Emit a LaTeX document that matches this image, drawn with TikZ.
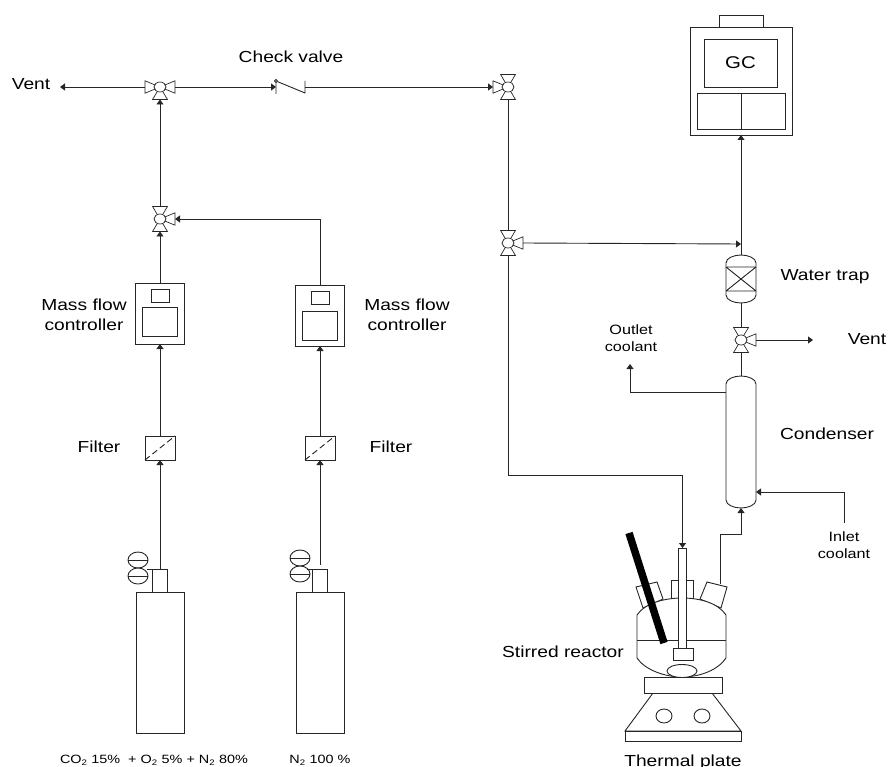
\documentclass[tikz,border=0pt]{standalone}
\usepackage{fontspec}
\setmainfont[FakeStretch=1.2]{Liberation Sans}
\usetikzlibrary{arrows.meta,positioning,calc,shapes.geometric}
\definecolor{PipeInk}{HTML}{262626}
\tikzset{pipe/.style={draw=PipeInk,line width=.9pt},
arr/.style={pipe,-{Triangle[length=5pt,width=7pt]}},
unit/.style={draw=PipeInk,line width=.9pt,fill=white,inner sep=0pt,outer sep=0pt},
valvearm/.style={draw=PipeInk,line width=.7pt,fill=white},
valvebody/.style={ellipse,draw=PipeInk,line width=.7pt,fill=white,inner sep=0pt,outer sep=0pt,minimum width=12pt,minimum height=10pt},
lab/.style={align=center,inner sep=0pt,font=\fontsize{16}{20}\selectfont},
smalllab/.style={align=center,inner sep=0pt,font=\fontsize{13.5}{16.5}\selectfont},
gaslab/.style={inner sep=0pt,font=\fontsize{12}{14}\selectfont}}
\newcommand{\valve}[4]{%
\foreach \a in {#4}{
\draw[valvearm,shift={(#2,#3)},xscale=1.2,rotate=\a] (0,0)--(12.5,-6.2)--(12.5,6.2)--cycle;
\path[shift={(#2,#3)},xscale=1.2,rotate=\a] (12.5,0) coordinate (#1-\a);}
\node[valvebody] (#1) at (#2,#3) {};}
\newcommand{\capsule}[4]{%
\node[inner sep=0pt,outer sep=0pt,minimum width=30pt,minimum height={#4-#3}] (#1) at (#2,{(#3+#4)/2}) {};
\draw[pipe,fill=white] (#2-15,#3+8) .. controls (#2-15,#3+3) and (#2-7,#3) .. (#2,#3) .. controls (#2+7,#3) and (#2+15,#3+3) .. (#2+15,#3+8) -- (#2+15,#4-8) .. controls (#2+15,#4-3) and (#2+7,#4) .. (#2,#4) .. controls (#2-7,#4) and (#2-15,#4-3) .. (#2-15,#4-8) -- cycle;}
\begin{document}
\begin{tikzpicture}[x=1pt,y=-1pt]
\useasboundingbox (0,0) rectangle (888,767);
\foreach \n/\x/\y/\b in {A/160/283/24,B/320/285/26}{
\node[unit,minimum width=48.5pt,minimum height=61pt] (mfc\n) at (\x,\y+30.5) {};
\node[unit,minimum width=18pt,minimum height=13pt] (mfcTop\n) at (\x,\y+12.5) {};
\node[unit,minimum width=35pt,minimum height=29pt] (mfcBig\n) at (\x-.5,\y+\b+14.5) {};
\node[unit,minimum width=30pt,minimum height=24pt] (filter\n) at (\x,448) {};
\draw[pipe,dashed,dash pattern=on 6pt off 3.5pt] (filter\n.south west)--(filter\n.north east);
\node[unit,minimum width=48pt,minimum height=141pt] (cyl\n) at (\x,662.5) {};
\node[unit,minimum width=14.5pt,minimum height=23pt] (neck\n) at (\x,580.5) {};}
\foreach \n/\x/\y in {A/138/560,B/300/558}{
\node[unit,ellipse,minimum width=20pt,minimum height=16pt] (regTop\n) at (\x,\y) {};
\node[unit,ellipse,minimum width=20pt,minimum height=16pt] (regLow\n) at (\x,\y+16) {};
\draw[pipe] (regTop\n.west)--(regTop\n.east);
\draw[pipe] (regLow\n.west)--(regLow\n.east);
\draw[pipe] (neck\n.north west)--++(-6,0);}
\valve{valveVent}{160}{87}{0,180,270}
\valve{valveMix}{160}{219}{0,90,270}
\valve{valveOut}{508}{87}{90,180,270}
\valve{valveFeed}{508}{243}{0,90,270}
\valve{valveTrap}{741}{340}{0,90,270}
\node[unit,minimum width=102pt,minimum height=108pt] (gc) at (741,81) {};
\node[unit,minimum width=44pt,minimum height=12pt] (gcTab) at (741,21) {};
\node[unit,minimum width=73pt,minimum height=48pt,font=\fontsize{17}{20}\selectfont] (gcScreen) at (740.5,63) {GC};
\node[unit,minimum width=44pt,minimum height=36pt] (gcLeft) at (719,111) {};
\node[unit,minimum width=44pt,minimum height=36pt] (gcRight) at (763,111) {};
\capsule{trap}{741}{255}{303}
\draw[pipe] (726,267)--(756,267) (726,291)--(756,291) (726,267)--(756,291) (756,267)--(726,291);
\capsule{cond}{741}{376}{508}
\draw[pipe,fill=white] (636,587)--(657,582)--(663,599)--(643,608)--cycle;
\draw[pipe,fill=white] (707,582)--(727,587)--(721,608)--(700,599)--cycle;
\draw[pipe,fill=white] (671,580) rectangle (693,600);
\coordinate (neckOut) at (720,584);
\draw[pipe,fill=white] (637,615) .. controls (645,603) and (665,598) .. (682,598) .. controls (700,598) and (718,603) .. (726,615) -- (726,658) .. controls (718,670) and (700,677) .. (682,677) .. controls (665,677) and (645,670) .. (637,658) -- cycle;
\draw[pipe] (637,640)--(726,640);
\node[unit,minimum width=7.5pt,minimum height=100pt] (tube) at (682.5,598) {};
\node[unit,minimum width=20pt,minimum height=12pt] (impeller) at (683,654) {};
\node[unit,ellipse,minimum width=30pt,minimum height=13pt] (stirbar) at (682,671) {};
\draw[black,line width=7.5pt] (629,533)--(664,643);
\draw[pipe,fill=white] (653,693)--(712,693)--(741,731)--(625,731)--cycle;
\node[unit,minimum width=78pt,minimum height=16pt] (plate) at (683,685) {};
\node[unit,minimum width=116pt,minimum height=10pt] (plateBase) at (683,736) {};
\foreach \x in {664,702}{\node[unit,ellipse,minimum width=16pt,minimum height=14pt] (knob\x) at (\x,716) {};}
\coordinate (ventLeft) at (60,87);
\coordinate (ventRight) at (813,340);
\coordinate (checkIn) at (276,87);
\coordinate (checkOut) at (305,87);
\coordinate (trapTap) at (741,244);
\coordinate (feedBend) at (508,475);
\coordinate (condBend) at (741,534);
\coordinate (outletTap) at (726,392);
\coordinate (outletEnd) at (630,364);
\coordinate (inletTap) at (756,492);
\coordinate (inletEnd) at (844,523);
\node[unit,circle,minimum size=3pt] (hinge) at (276,81) {};
\draw[pipe] (276,94)--(hinge)--(305,93)--(305,81);
\foreach \n in {A,B}{
\draw[arr] (filter\n.north)--(mfc\n.south);}
\draw[arr] (neckA.north)--(filterA.south);
\draw[arr,shorten <=4pt] (neckB.north)--(filterB.south);
\draw[arr] (mfcA.north)--(valveMix-270);
\draw[arr] (mfcB.north)|-(valveMix-0);
\draw[arr] (valveMix-90)--(valveVent-270);
\draw[arr] (valveVent-180)--(ventLeft);
\draw[arr] (valveVent-0)--(checkIn);
\draw[arr] (checkOut)--(valveOut-180);
\draw[pipe] (valveFeed-90)--(valveOut-270);
\draw[arr] (valveFeed-0)--(trapTap);
\draw[arr] (valveFeed-270)--(feedBend)-|(tube.north);
\draw[arr] (trap.north)--(gc.south);
\draw[pipe] (valveTrap-90)--(trap.south);
\draw[pipe] (cond.north)--(valveTrap-270);
\draw[arr] (valveTrap-0)--(ventRight);
\draw[arr] (neckOut)|-(condBend)--(cond.south);
\draw[arr] (outletTap)-|(outletEnd);
\draw[arr] (inletEnd)|-(inletTap);
\node[lab] (ventLeftLab) at (31,84) {Vent};
\node[lab] (ventRightLab) at (867,339) {Vent};
\node[lab] (checkLab) at (291,57) {Check valve};
\node[lab] (mfcLabA) at (84,315) {Mass flow\\controller};
\node[lab] (mfcLabB) at (407,315) {Mass flow\\controller};
\node[lab] (filterLabA) at (99,447) {Filter};
\node[lab] (filterLabB) at (391,447) {Filter};
\node[lab] (trapLab) at (825,277) {Water trap};
\node[lab] (condLab) at (827,434) {Condenser};
\node[lab] (reactorLab) at (563,652) {Stirred reactor};
\node[lab,anchor=base] (plateLab) at (683,766) {Thermal plate};
\node[smalllab] (outletLab) at (631,338) {Outlet\\coolant};
\node[smalllab] (inletLab) at (844,545) {Inlet\\coolant};
\node[gaslab] (gasA) at (154,760) {CO\textsubscript{2} 15\%\ \ + O\textsubscript{2} 5\% + N\textsubscript{2} 80\%};
\node[gaslab] (gasB) at (320,760) {N\textsubscript{2} 100 \%};
\end{tikzpicture}
\end{document}
